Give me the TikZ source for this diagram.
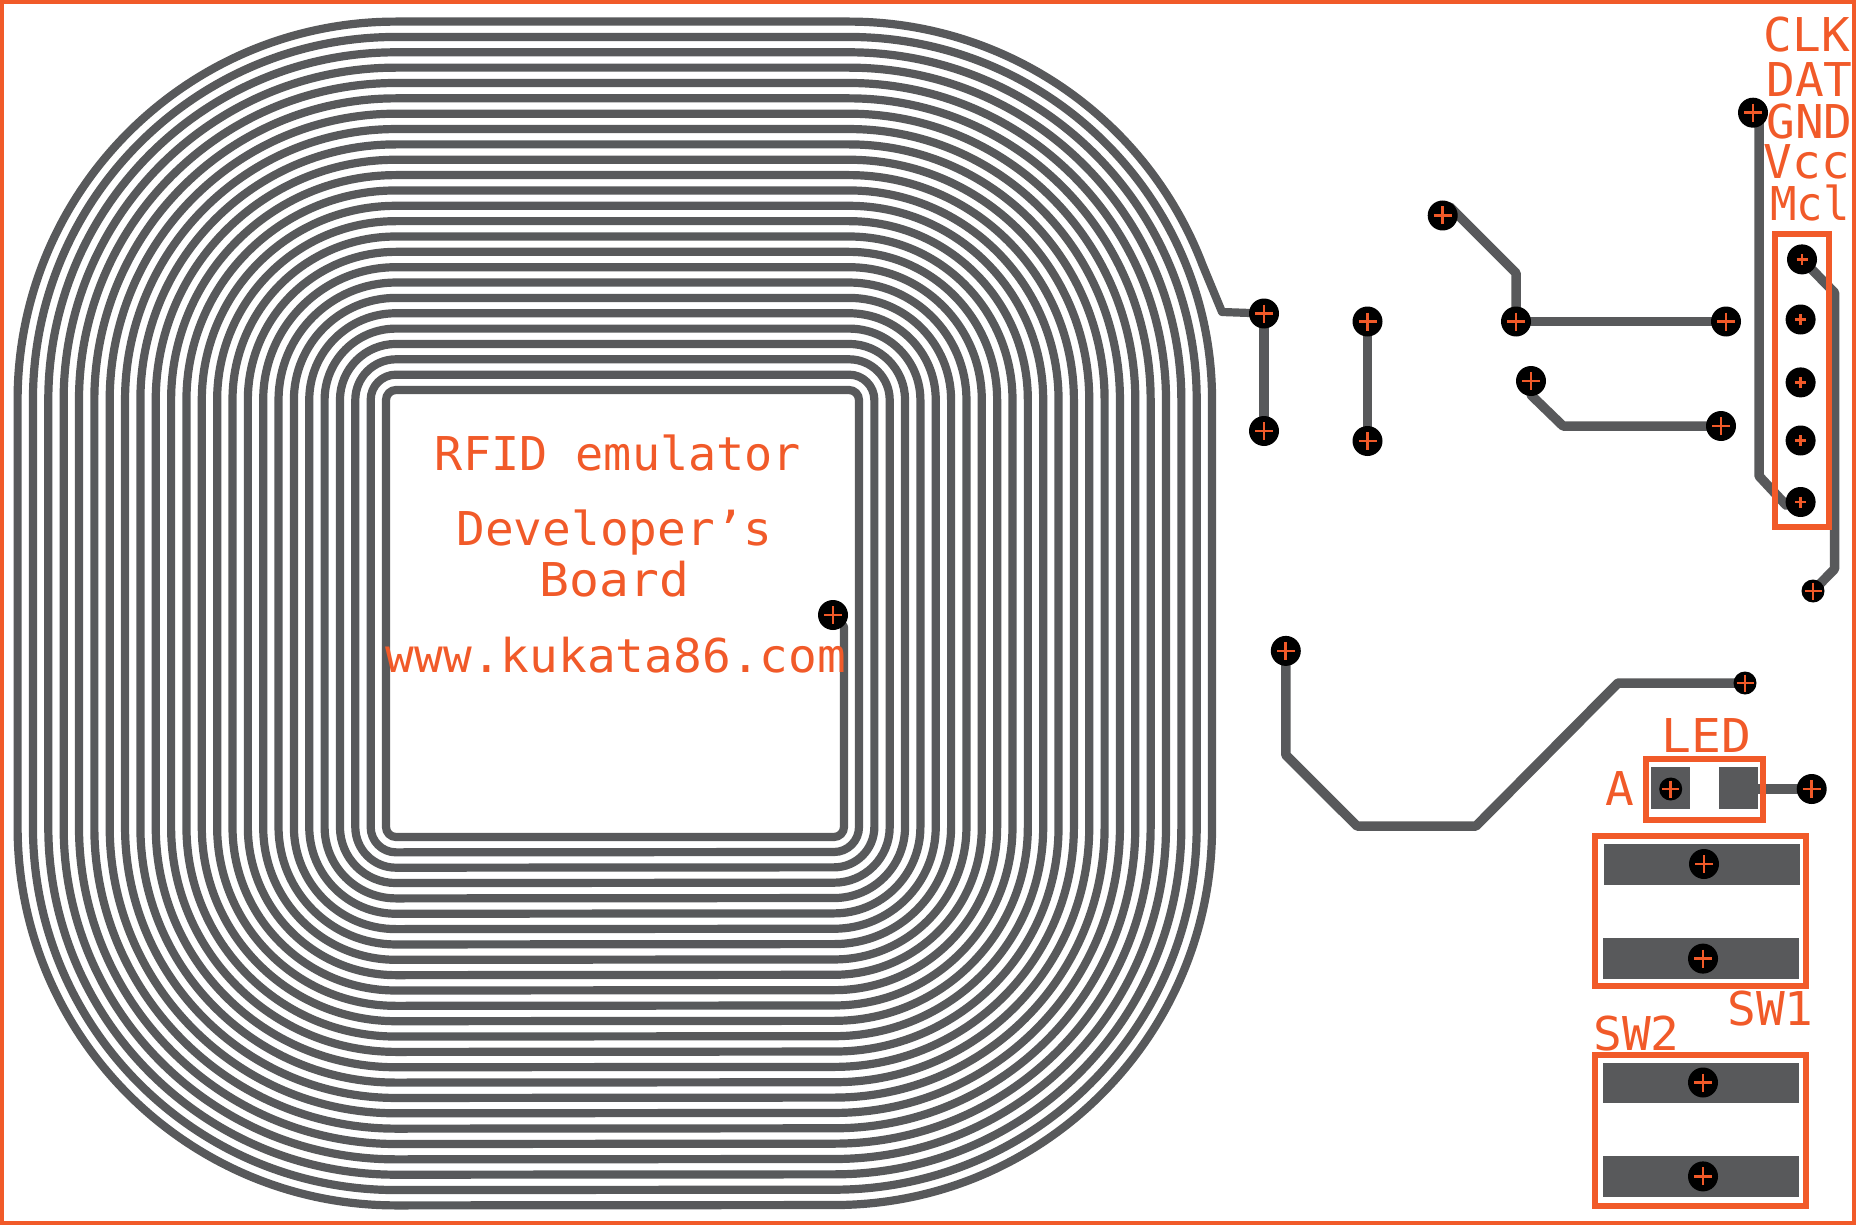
\documentclass[tikz,border=0pt]{standalone}
\usepackage{fontspec}
\newfontfamily\lblfontfam{DejaVu Sans Mono}
\definecolor{pcbred}{HTML}{F15A29}
\definecolor{pcbgrey}{HTML}{58595B}
\pgfdeclarelayer{back}
\pgfsetlayers{back,main}
\tikzset{
  viahole/.style 2 args={circle,fill=black,draw=none,inner sep=0pt,minimum size=#1,
    path picture={\draw[pcbred,line width=2.7pt] (path picture bounding box.center) +(-#2,0) -- +(#2,0)
      (path picture bounding box.center) +(0,-#2) -- +(0,#2);}},
  via/.style={viahole={30pt}{9}},
  pin/.style={viahole={30pt}{5.5}},
  smallvia/.style={viahole={23pt}{8.5}},
  trace/.style={draw=pcbgrey,line width=9.5pt,line join=round},
  coil/.style={draw=pcbgrey,line width=8.2pt,line join=round},
  padfill/.style={fill=pcbgrey,draw=none},
  outline/.style={draw=pcbred,line width=6pt},
  lbl/.style={text=pcbred,inner sep=0pt,anchor=base,text height=34pt,text depth=0pt,
    xscale=1.025,transform shape,font=\lblfontfam\fontsize{46.6}{46.6}\selectfont},
}
\begin{document}
\begin{tikzpicture}[x=1pt,y=-1pt]
\useasboundingbox (0,0) rectangle (1856,1225);
% drill holes
\node[via] (A) at (1264,313.5) {};
\node[via] (B) at (1264,431) {};
\node[via] (C) at (1367.5,321.5) {};
\node[via] (D) at (1367.5,441) {};
\node[via] (E) at (1442.7,215.5) {};
\node[via] (F) at (1516,321.5) {};
\node[via] (G) at (1726,321.5) {};
\node[via] (H) at (1531,381) {};
\node[via] (I) at (1721,426) {};
\node[via] (J) at (1753,112.7) {};
\node[pin] (P1) at (1802,259.4) {};
\node[pin] (P2) at (1800.6,319.5) {};
\node[pin] (P3) at (1800.6,382.4) {};
\node[pin] (P4) at (1800.6,440.5) {};
\node[pin] (P5) at (1800.6,502) {};
\node[smallvia] (K) at (1813,591) {};
\node[via] (L) at (1285.8,650.9) {};
\node[smallvia] (M) at (1745,683) {};
\node[smallvia] (N) at (1670.7,789) {};
\node[via] (O) at (1811.7,789) {};
\node[via] (S) at (833,615) {};
\node[via] (T1) at (1704,864) {};
\node[via] (T2) at (1703,958.6) {};
\node[via] (T3) at (1703,1082.5) {};
\node[via] (T4) at (1703,1176.4) {};
\begin{pgfonlayer}{back}
  % pads
  \path[padfill] (1651,767) rectangle (1690,809);
  \path[padfill] (1719,767) rectangle (1758,809);
  \path[padfill] (1604,844) rectangle (1800,885);
  \path[padfill] (1603,938) rectangle (1799,979);
  \path[padfill] (1603,1062.5) rectangle (1799,1103.4);
  \path[padfill] (1603,1156) rectangle (1799,1197);
  % traces
  \draw[trace] (A.center) -- (B.center);
  \draw[trace] (C.center) -- (D.center);
  \draw[trace] (E.center) -- (1450,207) -- (1516,273) -- (F.center);
  \draw[trace] (F.center) -- (G.center);
  \draw[trace] (H.center) -- (1531,395) -- (1563,426) -- (I.center);
  \draw[trace] (J.center) -- (1759,112.7) -- (1759,476) -- (1786,505) -- (P5.center);
  \draw[trace] (P1.center) -- (1834.5,292.6) -- (1834.5,569) -- (K.center);
  \draw[trace] (L.center) -- (1285.8,755) -- (1357,826) -- (1476,826) -- (1618,683) -- (M.center);
  \draw[trace] (1740,789) -- (O.center);
  % coil
  \draw[coil] (S.center) -- (841,622) -- (844,627) -- (844,827)
    .. controls (844,832.5) and (839.5,837) .. (834,837) -- (396,837)
    foreach \kk [evaluate=\kk as \rr using {10+15.35*\kk},
                 evaluate=\kk as \qq using {25+15.35*\kk}] in {0,...,23} {
      -- (396,{827+\rr})
      .. controls ({396-.5523*\rr},{827+\rr}) and ({396-\rr},{827+.5523*\rr}) .. ({396-\rr},827)
      -- ({396-\rr},400)
      .. controls ({396-\rr},{400-.5523*\rr}) and ({396-.5523*\rr},{400-\rr}) .. (396,{400-\rr})
      -- (849,{400-\rr})
      .. controls ({849+.5523*\rr},{400-\rr}) and ({849+\rr},{400-.5523*\rr}) .. ({849+\rr},400)
      -- ({834+\qq},827)
      .. controls ({834+\qq},{827+.5523*\qq}) and ({834+.5523*\qq},{827+\qq}) .. (834,{827+\qq})
    }
    -- (396,1205.4)
    .. controls (187,1205.4) and (17.6,1036) .. (17.6,827)
    -- (17.6,400)
    .. controls (17.6,191) and (187,21.6) .. (396,21.6)
    -- (849,21.6)
    .. controls (1005.7,21.6) and (1146.2,118) .. (1202.3,264.4)
    -- (1222,312) -- (A.center);
\end{pgfonlayer}
% component outlines
\draw[outline] (1774.6,234) rectangle (1828.6,527);
\draw[outline] (1645.6,758.6) rectangle (1762.8,820);
\draw[outline] (1595,835.5) rectangle (1806,986.4);
\draw[outline] (1595,1055) rectangle (1806,1206);
% board edge
\draw[pcbred,line width=4pt] (2,2) rectangle (1854,1223);
% labels
\node[lbl] (t1) at (1807,52) {CLK};
\node[lbl] (t2) at (1809.5,97) {DAT};
\node[lbl] (t3) at (1809.5,139) {GND};
\node[lbl] (t4) at (1807,179) {Vcc};
\node[lbl,xscale=.92] (t5) at (1810,220.5) {Mcl};
\node[lbl,xscale=.98] (t6) at (618,470) {RFID emulator};
\node[lbl] (t7) at (614.5,545) {Developer’s};
\node[lbl,xscale=1.04] (t8) at (614.5,596) {Board};
\node[lbl] (t9) at (616,672) {www.kukata86.com};
\node[lbl,xscale=1.04] (t10) at (1706.5,752) {LED};
\node[lbl] (t11) at (1620,805) {A};
\node[lbl] (t12) at (1770.5,1025) {SW1};
\node[lbl] (t13) at (1636.5,1050.5) {SW2};
\end{tikzpicture}
\end{document}
